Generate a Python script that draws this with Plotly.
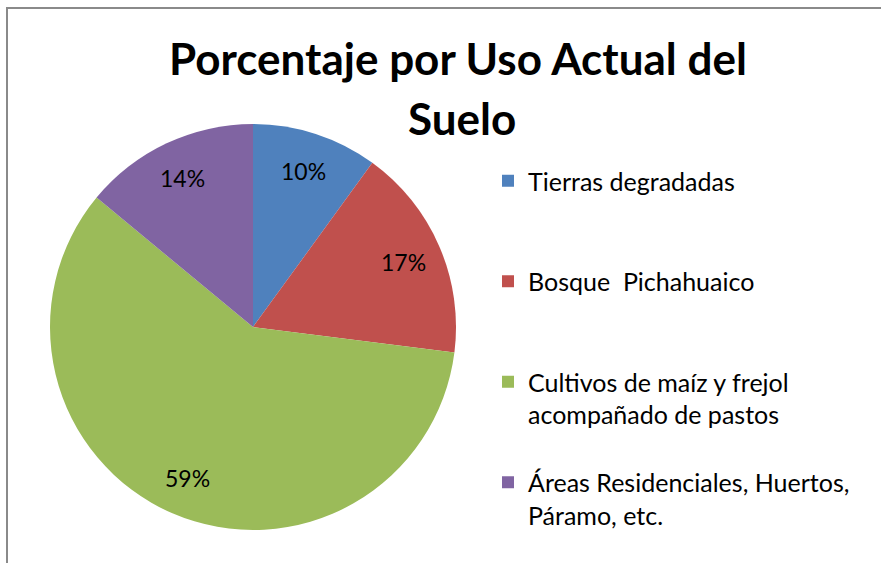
import math
import plotly.graph_objects as go

# ---- data ----
categories = [
    "Tierras degradadas",
    "Bosque  Pichahuaico",
    "Cultivos de maíz y frejol<br>acompañado de pastos",
    "Áreas Residenciales, Huertos,<br>Páramo, etc.",
]
values = [10, 17, 59, 14]
colors = ["#4F81BD", "#C0504D", "#9BBB59", "#8064A2"]
title_lines = ["Porcentaje por Uso Actual del", "Suelo"]

W, H = 881, 563
CX, CY, R = 253, 327, 203  # pie centre / radius in pixels

# legend labels padded with blank lines to reproduce the spacing
pad = ["<br> <br> ", "<br> <br> ", "<br> ", ""]
legend_labels = [c + p for c, p in zip(categories, pad)]

font = "Lato, 'Open Sans', sans-serif"

fig = go.Figure(go.Pie(
    labels=legend_labels,
    values=values,
    marker=dict(colors=colors, line=dict(width=0)),
    sort=False,
    direction="clockwise",
    rotation=0,
    textinfo="none",
    hoverinfo="label+percent",
    domain=dict(x=[(CX - R) / W, (CX + R) / W],
                y=[1 - (CY + R) / H, 1 - (CY - R) / H]),
))

annotations = []
# percentage labels, placed from the data
total = sum(values)
cum = 0
for v in values:
    mid = (cum + v / 2) / total * 2 * math.pi
    cum += v
    px = CX + 0.81 * R * math.sin(mid)
    py = CY - 0.81 * R * math.cos(mid)
    annotations.append(dict(
        x=px / W, y=1 - py / H, xref="paper", yref="paper",
        text=f"{round(v / total * 100)}%", showarrow=False,
        font=dict(family=font, size=23, color="#000000"),
        xanchor="center", yanchor="middle"))

# title lines
for txt, (tx, ty) in zip(title_lines, [(458, 58), (462, 118)]):
    annotations.append(dict(
        x=tx / W, y=1 - ty / H, xref="paper", yref="paper",
        text=f"<b>{txt}</b>", showarrow=False,
        font=dict(family=font, size=44, color="#000000"),
        xanchor="center", yanchor="middle"))

fig.update_layout(
    width=W, height=H,
    margin=dict(l=0, r=0, t=0, b=0),
    paper_bgcolor="white", plot_bgcolor="white",
    showlegend=True,
    legend=dict(
        x=488 / W, y=1 - 158 / H, xanchor="left", yanchor="top",
        font=dict(family=font, size=25, color="#000000"),
        valign="top", bgcolor="rgba(0,0,0,0)", traceorder="normal",
    ),
    annotations=annotations,
    shapes=[dict(type="rect", xref="paper", yref="paper",
                 x0=7 / W, x1=1.05, y0=-0.05, y1=1 - 8 / H,
                 line=dict(color="#8a8a8a", width=2), fillcolor="rgba(0,0,0,0)",
                 layer="above")],
)

fig.write_html("out.html",
               config={"displayModeBar": False},
               post_script="document.body.style.margin='0';document.body.style.overflow='hidden';")
